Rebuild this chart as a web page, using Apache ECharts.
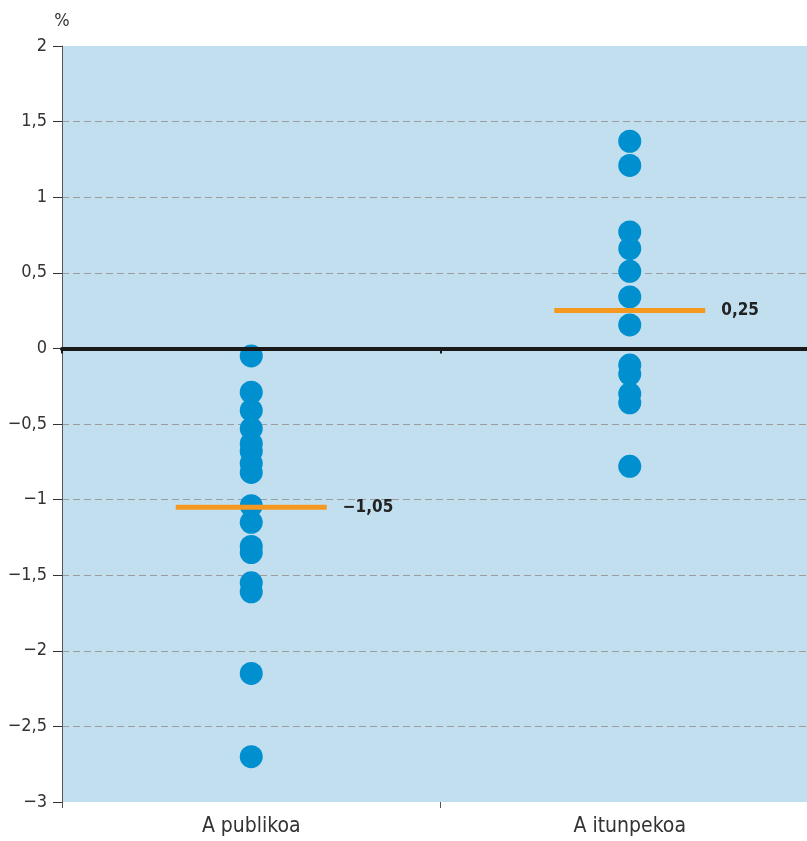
<!DOCTYPE html>
<html>
<head>
<meta charset="utf-8">
<script src="https://cdn.jsdelivr.net/npm/echarts@6/dist/echarts.min.js"></script>
<style>html,body{margin:0;padding:0;background:#fff}#c{width:807px;height:841px}</style>
</head>
<body>
<div id="c"></div>
<script>
const categories = ['A publikoa', 'A itunpekoa'];
const publikoa = [-0.05, -0.29, -0.41, -0.53, -0.63, -0.68, -0.76, -0.82, -1.04, -1.15, -1.31, -1.35, -1.55, -1.61, -2.15, -2.70];
const itunpekoa = [1.37, 1.21, 0.77, 0.66, 0.51, 0.34, 0.155, -0.11, -0.17, -0.30, -0.36, -0.78];
const means = [-1.05, 0.25];
const yTicks = { min: -3, max: 2, interval: 0.5 };

const FONT = "'Liberation Sans Narrow', 'DejaVu Sans Condensed', 'Noto Sans', sans-serif";
const fmt = v => {
  const s = String(Math.abs(v)).replace('.', ',');
  return (v < 0 ? '\u2212' : '') + s;
};

const points = [];
publikoa.forEach(v => points.push([categories[0], v]));
itunpekoa.forEach(v => points.push([categories[1], v]));

const chart = echarts.init(document.getElementById('c'), null, { renderer: 'canvas' });
chart.setOption({
  animation: false,
  grid: { left: 62, top: 46, bottom: 39, width: 757, outerBoundsMode: 'none', containLabel: false,
          show: true, backgroundColor: '#C2DFF0', borderWidth: 0 },
  xAxis: [
    {
      type: 'category', data: categories, boundaryGap: true,
      axisLine: { onZero: true, lineStyle: { color: '#1a1a1a', width: 4 } },
      axisTick: { show: true, length: 5, lineStyle: { color: '#1a1a1a', width: 2 } },
      axisLabel: { show: false }, splitLine: { show: false }, z: 5
    },
    {
      type: 'category', data: categories, boundaryGap: true, position: 'bottom',
      axisLine: { show: false, onZero: false },
      axisTick: { show: true, length: 6, lineStyle: { color: '#555' } },
      axisLabel: { show: true, margin: 14, color: '#333', fontSize: 21, fontFamily: FONT },
      splitLine: { show: false }
    }
  ],
  yAxis: {
    type: 'value', min: yTicks.min, max: yTicks.max, interval: yTicks.interval,
    name: '%', nameLocation: 'end', nameGap: 16,
    nameTextStyle: { color: '#333', fontSize: 18, fontFamily: FONT, align: 'center' },
    axisLine: { show: true, onZero: false, lineStyle: { color: '#555', width: 1 } },
    axisTick: { show: true, length: 9, lineStyle: { color: '#333' } },
    axisLabel: { margin: 15, color: '#333', fontSize: 18, fontFamily: FONT, formatter: fmt },
    splitLine: { show: true, showMinLine: false, showMaxLine: false, lineStyle: { color: '#9c9c9c', type: [7, 4], width: 1 } }
  },
  series: [
    {
      type: 'scatter', xAxisIndex: 0, data: points, symbol: 'circle', symbolSize: 23,
      itemStyle: { color: '#0090D0', opacity: 1 }, z: 3
    },
    {
      type: 'scatter', xAxisIndex: 0,
      data: means.map((m, i) => [categories[i], m]),
      symbol: 'rect', symbolSize: [151, 5], itemStyle: { color: '#F5981F', opacity: 1 }, z: 4,
      label: {
        show: true, position: 'right', distance: 16, color: '#222', fontSize: 17,
        fontWeight: 'bold', fontFamily: FONT, formatter: p => fmt(p.value[1])
      }
    }
  ]
});
</script>
</body>
</html>
